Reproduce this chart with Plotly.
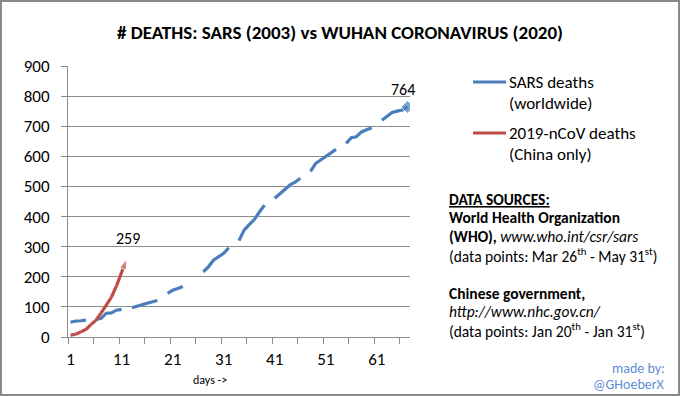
import plotly.graph_objects as go

# ---- data ----
sars_days = list(range(1, 68))  # Mar 26 - May 31 (2003)
sars_deaths = [49, 53, 54, 56, None, 58, 62, 79, 80, 89,
               92, None, 97, 103, 107, 112, 117, 121, None, 145,
               155, 161, 168, None, 182, None, 216, 233, 255, 267,
               278, 296, None, 320, 355, 373, 390, 415, 438, None,
               461, 475, 490, 505, 514, 527, None, 550, 576, 588,
               600, 612, 623, None, 643, 662, 665, 681, 688, 695,
               None, 720, 733, 746, 750, 754, 764]
ncov_days = list(range(1, 13))  # Jan 20 - Jan 31 (2020)
ncov_deaths = [6, 9, 17, 25, 41, 56, 80, 106, 132, 170, 213, 259]
x_tick_vals = [1, 11, 21, 31, 41, 51, 61]
y_tick_vals = [0, 100, 200, 300, 400, 500, 600, 700, 800, 900]

BLUE = "#4a7ebb"
RED = "#be4b48"
GRID = "#8c8c8c"
FONT = "Carlito, Lato, sans-serif"

# plot area in pixels
L, R, T, B = 68, 410, 66, 337
W, H = 680, 396


def px(x):
    return (x - L) / (R - L)


def py(y):
    return (B - y) / (B - T)


fig = go.Figure()
fig.add_trace(go.Scatter(
    x=sars_days, y=sars_deaths, mode="lines+markers", connectgaps=False,
    line=dict(color=BLUE, width=3.2),
    marker=dict(symbol="diamond", color=BLUE,
                size=[0] * (len(sars_days) - 1) + [10]),
    name="SARS deaths (worldwide)", showlegend=False, hoverinfo="x+y"))
fig.add_trace(go.Scatter(
    x=ncov_days, y=ncov_deaths, mode="lines+markers",
    line=dict(color=RED, width=3.2),
    marker=dict(symbol=["circle"] * (len(ncov_days) - 1) + ["arrow"],
                size=[0] * (len(ncov_days) - 1) + [11],
                angleref="previous", color=RED),
    name="2019-nCoV deaths (China only)", showlegend=False, hoverinfo="x+y"))

annotations = []
# data labels
annotations.append(dict(x=ncov_days[-1], y=ncov_deaths[-1], text=str(ncov_deaths[-1]),
                        showarrow=False, yshift=21, xshift=1, font=dict(size=16, color="#000")))
annotations.append(dict(x=sars_days[-1], y=sars_deaths[-1], text=str(sars_deaths[-1]),
                        showarrow=False, yshift=17, xshift=-4, font=dict(size=16, color="#000")))

# x axis title
annotations.append(dict(x=px(210), y=py(380), xref="paper", yref="paper", text="days ->",
                        xanchor="center", yanchor="middle",
                        showarrow=False, font=dict(size=12, color="#000")))

# legend (manual)
legend_lines = [
    ("SARS deaths", 82), ("(worldwide)", 103),
    ("2019-nCoV deaths", 133), ("(China only)", 154),
]
for txt, yy in legend_lines:
    annotations.append(dict(x=px(507), y=py(yy), xref="paper", yref="paper", text=txt,
                            xanchor="left", yanchor="middle", showarrow=False,
                            font=dict(size=17, color="#000")))

# data sources
src_lines = [
    ("<b><u>DATA SOURCES:</u></b>", 199),
    ("<b>World Health Organization</b>", 217),
    ("<b>(WHO),</b> <i>www.who.int/csr/sars</i>", 236.5),
    ("(data points: Mar 26<sup>th</sup> - May 31<sup>st</sup>)", 255),
    ("<b>Chinese government,</b>", 293),
    ("<i>http://www.nhc.gov.cn/</i>", 311.5),
    ("(data points: Jan 20<sup>th</sup> - Jan 31<sup>st</sup>)", 330),
]
for txt, yy in src_lines:
    annotations.append(dict(x=px(447), y=py(yy), xref="paper", yref="paper", text=txt,
                            xanchor="left", yanchor="middle", showarrow=False,
                            font=dict(size=15.5, color="#000")))
for txt, yy in [("made by:", 368), ("@GHoeberX", 384)]:
    annotations.append(dict(x=px(667), y=py(yy), xref="paper", yref="paper", text=txt,
                            xanchor="right", yanchor="middle", showarrow=False,
                            font=dict(size=14, color="#5f8dd3")))

shapes = [
    dict(type="line", xref="paper", yref="paper", x0=px(473), x1=px(506), y0=py(82), y1=py(82),
         line=dict(color=BLUE, width=3)),
    dict(type="line", xref="paper", yref="paper", x0=px(473), x1=px(506), y0=py(133), y1=py(133),
         line=dict(color=RED, width=3)),
    dict(type="rect", xref="paper", yref="paper", x0=px(1), x1=px(679), y0=py(395), y1=py(1),
         line=dict(color="#8a8a8a", width=2), layer="below"),
]

fig.update_layout(
    width=W, height=H,
    margin=dict(l=L, r=W - R, t=T, b=H - B, pad=0),
    paper_bgcolor="white", plot_bgcolor="white",
    font=dict(family=FONT, color="#000"),
    title=dict(text="<b># DEATHS: SARS (2003) vs WUHAN CORONAVIRUS (2020)</b>",
               x=0.5, xanchor="center", y=1 - 32.5 / H, yanchor="middle",
               font=dict(size=19, family=FONT, color="#000")),
    xaxis=dict(range=[0.5, 67.5], tickmode="array", tickvals=x_tick_vals,
               ticks="outside", ticklen=7, tickcolor="rgba(0,0,0,0)",
               showgrid=False, zeroline=False, showline=True, linecolor=GRID, linewidth=1,
               tickfont=dict(size=17, color="#000"),
               minor=dict(tickmode="linear", tick0=0.5, dtick=5, ticks="outside",
                          ticklen=6, tickcolor=GRID, showgrid=False)),
    yaxis=dict(range=[0, 900], tickmode="array", tickvals=y_tick_vals,
               ticks="outside", ticklen=6, tickcolor=GRID, ticklabelstandoff=8,
               showgrid=True, gridcolor=GRID, gridwidth=1, zeroline=False,
               showline=True, linecolor=GRID, linewidth=1,
               tickfont=dict(size=17, color="#000")),
    annotations=annotations, shapes=shapes,
    showlegend=False,
)

fig.write_html("out.html", config={"displayModeBar": False},
               post_script="document.body.style.margin='0';document.body.style.overflow='hidden';")
